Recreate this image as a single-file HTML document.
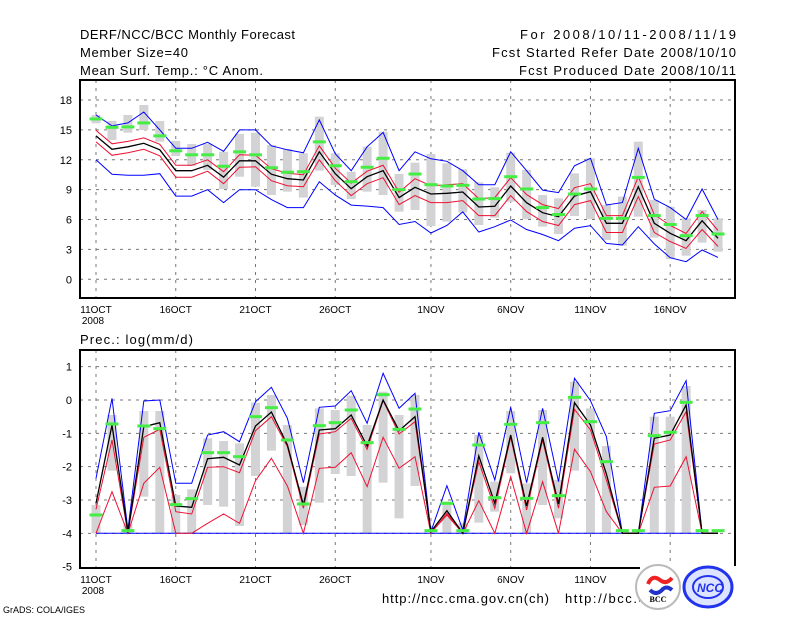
<!DOCTYPE html>
<html><head><meta charset="utf-8"><style>
html,body{margin:0;padding:0;background:#fff;}
svg{display:block;font-family:"Liberation Sans",sans-serif;}
</style></head><body>
<svg id="chart" width="800" height="618" viewBox="0 0 800 618" xmlns="http://www.w3.org/2000/svg">
<rect width="800" height="618" fill="#fff"/>
<g font-size="13" fill="#000">
<text x="80" y="39" textLength="215" lengthAdjust="spacing">DERF/NCC/BCC Monthly Forecast</text>
<text x="80" y="57" textLength="108" lengthAdjust="spacing">Member Size=40</text>
<text x="80" y="75" textLength="183" lengthAdjust="spacing">Mean Surf. Temp.: °C Anom.</text>
<text x="520" y="39" textLength="216" lengthAdjust="spacing">For 2008/10/11-2008/11/19</text>
<text x="492" y="57" textLength="244" lengthAdjust="spacing">Fcst Started Refer Date 2008/10/10</text>
<text x="519" y="75" textLength="217" lengthAdjust="spacing">Fcst Produced Date 2008/10/11</text>
<text x="80" y="344" textLength="113" lengthAdjust="spacing">Prec.: log(mm/d)</text>
<text x="382" y="603" textLength="167" lengthAdjust="spacing">http://ncc.cma.gov.cn(ch)</text>
<text x="565" y="603" textLength="80" lengthAdjust="spacing">http://bcc.c</text>
</g>
<text x="3" y="613" font-size="9">GrADS: COLA/IGES</text>
<g id="top"></g>
<g id="bot"></g>
<g>
<rect x="640" y="566" width="98" height="46" fill="#fff"/>
<circle cx="658" cy="587" r="22" fill="#fff" stroke="#bbb" stroke-width="2"/>
<path d="M648 584 q4 -10 12 -4 q6 5 12 -2" stroke="#e22" stroke-width="4" fill="none"/>
<path d="M650 590 q6 6 12 0 q4 -5 10 0" stroke="#23c" stroke-width="4" fill="none"/>
<text x="658" y="602" font-size="8" font-weight="bold" text-anchor="middle" font-family="Liberation Serif,serif">BCC</text>
</g>
<g>
<ellipse cx="708" cy="587" rx="24" ry="20" fill="#dde4ff" stroke="#23e" stroke-width="3"/>
<ellipse cx="708" cy="587" rx="15" ry="11" fill="none" stroke="#23e" stroke-width="2"/>
<text x="710" y="592" font-size="12" font-weight="bold" font-style="italic" fill="#23e" text-anchor="middle">NCC</text>
</g>
</svg>
<script>
// ---- temperature panel data ----
var tickDays = [0,5,10,15,21,26,31,36];
var tickLabels = ["11OCT","16OCT","21OCT","26OCT","1NOV","6NOV","11NOV","16NOV"];
var tempTicks = [0,3,6,9,12,15,18];
var tempMean = [14.4,13.05,13.3,13.65,13.0,10.9,10.9,11.45,10.25,11.9,11.9,10.55,10.1,9.97,12.8,10.6,9.1,10.3,10.9,8.2,9.24,8.56,8.63,8.77,7.26,7.33,9.37,7.69,6.69,6.29,8.36,8.8,5.62,5.62,9.3,5.62,4.62,3.88,5.88,4.12];
var tempRedUp = [14.95,13.6,13.85,14.2,13.55,11.45,11.45,12.0,10.8,12.5,12.45,11.1,10.65,10.5,13.4,11.15,9.65,10.85,11.45,8.75,10.1,9.4,9.5,9.6,8.1,8.2,10.2,8.5,7.5,7.1,9.2,9.6,6.4,6.4,10.3,6.5,5.4,4.6,6.8,4.9];
var tempRedLo = [13.8,12.45,12.7,13.05,12.4,10.25,10.25,10.85,9.6,11.25,11.3,9.9,9.4,9.3,12.0,9.9,8.4,9.6,10.2,7.5,8.4,7.7,7.7,7.9,6.4,6.4,8.4,6.8,5.8,5.4,7.5,7.9,4.7,4.7,8.3,4.7,3.8,3.1,5.0,3.3];
var tempMax = [16.5,15.4,15.7,16.8,15.0,13.15,13.15,13.75,12.85,15.0,15.0,13.4,13.0,12.7,16.0,12.6,10.9,13.3,14.75,10.9,12.8,12.1,11.85,10.9,9.5,9.5,12.8,10.9,8.96,8.7,11.4,12.15,7.46,7.7,13.15,8.03,7.2,6.0,9.07,6.0];
var tempMin = [12.0,10.55,10.45,10.45,10.6,8.35,8.35,9.0,7.7,9.0,9.0,8.0,7.2,7.2,9.8,8.45,7.45,7.35,7.2,5.5,5.8,4.65,5.4,6.77,4.75,5.28,5.95,5.0,4.5,3.88,5.13,5.39,3.6,3.44,5.28,3.55,2.17,1.77,2.94,2.2];
var tempObs = [16.1,15.26,15.3,15.7,14.4,12.9,12.5,12.5,11.35,12.8,12.5,11.2,10.75,10.8,13.8,11.4,9.8,11.25,12.15,9.0,10.57,9.5,9.37,9.44,8.06,8.1,10.3,9.07,7.2,6.5,8.56,9.07,6.12,6.12,10.23,6.4,5.5,4.38,6.4,4.55];
var tempBoxTop = [16.5,15.9,16.5,17.5,15.9,13.89,13.58,13.58,12.8,14.6,14.72,13.48,13.08,12.65,16.33,12.65,10.8,13.32,14.82,10.58,11.71,12.58,11.65,11.04,9.74,9.24,12.71,10.98,8.46,8.13,10.64,12.15,7.46,8.3,13.82,7.96,7.29,6.12,6.96,6.12];
var tempBoxBot = [15.66,13.99,14.72,14.99,13.82,12.38,11.38,10.98,9.07,10.3,9.3,8.46,8.8,8.2,10.91,9.47,8.06,8.8,8.46,6.79,6.96,5.35,5.79,6.69,5.45,6.19,7.8,6.05,5.29,4.55,6.36,6.05,3.95,3.38,6.29,4.18,2.04,2.37,3.68,2.77];
// ---- precipitation panel data ----
var precTicks = [-5,-4,-3,-2,-1,0,1];
var precMean = [-3.1,-0.75,-3.98,-0.8,-0.68,-3.18,-3.22,-1.76,-1.72,-1.95,-0.78,-0.36,-1.35,-3.15,-0.9,-0.86,-0.45,-1.38,0.0,-0.92,-0.5,-3.95,-3.32,-4,-1.68,-3.1,-1.05,-3.18,-1.12,-3.12,-0.08,-0.75,-2.22,-4,-4,-1.15,-1.05,-0.15,-4,-4];
var precMax = [-2.35,0.05,-3.9,-0.03,0.0,-2.5,-2.5,-1.05,-0.95,-1.25,-0.05,0.38,-0.55,-2.48,-0.22,-0.18,0.28,-0.7,0.8,-0.25,0.2,-3.95,-2.57,-3.9,-0.97,-2.4,-0.22,-2.48,-0.25,-2.45,0.65,-0.02,-1.1,-4,-4,-0.4,-0.32,0.58,-4,-4];
var precRedUp = [-3.28,-1.2,-4,-1.12,-0.88,-3.35,-3.42,-2.02,-2.0,-2.18,-0.92,-0.5,-1.4,-3.25,-1.02,-0.95,-0.55,-1.48,-0.02,-1.02,-0.65,-3.98,-3.45,-4,-1.85,-3.25,-1.12,-3.3,-1.2,-3.25,-0.28,-0.9,-2.4,-4,-4,-1.32,-1.2,-0.35,-4,-4];
var precRedLo = [-4,-2.75,-4,-2.5,-2.02,-4,-4,-3.7,-3.42,-3.7,-2.42,-1.75,-2.58,-4,-2.05,-2.02,-1.58,-2.6,-1.12,-2.05,-1.7,-4,-3.4,-4,-3.02,-4,-2.3,-4,-2.45,-4,-1.48,-2.15,-3.35,-4,-4,-2.62,-2.58,-1.7,-4,-4];
var precObs = [-3.45,-0.72,-3.92,-0.78,-0.86,-3.14,-2.96,-1.58,-1.58,-1.7,-0.5,-0.23,-1.2,-3.12,-0.77,-0.68,-0.3,-1.28,0.16,-0.88,-0.27,-3.92,-3.1,-3.92,-1.35,-2.93,-0.73,-2.95,-0.68,-2.87,0.08,-0.65,-1.85,-3.92,-3.92,-1.07,-0.97,-0.07,-3.92,-3.92];
var precBoxTop = [-3.15,-0.45,-3.7,-0.33,-0.33,-2.85,-2.68,-1.15,-1.23,-1.3,-0.08,0.15,-0.75,-2.6,-0.25,-0.3,0.13,-0.75,0.25,-0.45,0.15,-4,-3.05,-3.7,-1.05,-2.45,-0.33,-2.5,-0.3,-2.4,0.55,-0.25,-1.38,-4,-4,-0.5,-0.5,0.42,-4,-4];
var precBoxBot = [-4,-2.12,-4,-2.9,-4,-4,-4,-3.15,-3.2,-3.78,-2.28,-1.52,-4,-3.75,-3.08,-2.22,-2.28,-4,-2.48,-3.55,-2.58,-4,-4,-4,-3.68,-3.35,-2.2,-4,-3.15,-3.55,-2.12,-4,-4,-4,-4,-4,-4,-4,-4,-4];
var precMin = [-4,-4,-4,-4,-4,-4,-4,-4,-4,-4,-4,-4,-4,-4,-4,-4,-4,-4,-4,-4,-4,-4,-4,-4,-4,-4,-4,-4,-4,-4,-4,-4,-4,-4,-4,-4,-4,-4,-4,-4];

var NS="http://www.w3.org/2000/svg";
function xs(i){return 96+i*15.95;}
function ytT(v){return 279.3-v*9.96;}
function ytB(v){return 400-v*33.33;}
function mk(parent,tag,attrs){var e=document.createElementNS(NS,tag);for(var k in attrs)e.setAttribute(k,attrs[k]);parent.appendChild(e);return e;}

function panel(g,top,bottom,ys,ticks,boxT,boxB,obs,maxA,minA,ruA,rlA,mean,prefix){
  var L=80,R=735;
  for(var t=0;t<ticks.length;t++){
    var yy=ys(ticks[t]);
    if(yy>top+2&&yy<bottom-2){
      var gl=mk(g,'line',{x1:L,x2:R,y1:yy,y2:yy,stroke:'#777','stroke-dasharray':'3,5','stroke-width':1});
      
      
    }
    var tl=mk(g,'text',{x:72,y:yy+4,'text-anchor':'end','font-size':11});
    tl.textContent=String(ticks[t]);
    
    
  }
  for(var d=0;d<tickDays.length;d++){
    var xx=xs(tickDays[d]);
    var vl=mk(g,'line',{x1:xx,x2:xx,y1:top,y2:bottom+4,stroke:'#777','stroke-dasharray':'3,5','stroke-width':1});
    
    
    var xl=mk(g,'text',{x:xx,y:bottom+15,'text-anchor':'middle','font-size':10});
    xl.textContent=tickLabels[d];
    
    
  }
  var yl=mk(g,'text',{x:93,y:bottom+26,'text-anchor':'middle','font-size':10});
  yl.textContent='2008';
  
  
  for(var i=0;i<mean.length;i++){
    var a=ys(boxT[i]),b=ys(boxB[i]);
    if(b-a>0.5){
      var r=mk(g,'rect',{x:xs(i)-4.5,y:a,width:9,height:b-a,fill:'#d3d3d6'});
      
      
    }
  }
  function line(arr,color,w,name){
    var p='';for(var i=0;i<arr.length;i++)p+=(i?'L':'M')+xs(i).toFixed(1)+' '+ys(arr[i]).toFixed(1);
    var e=mk(g,'path',{d:p,stroke:color,'stroke-width':w,fill:'none'});
    
    
  }
  line(maxA,'#0000ff',1,prefix+'-max-line');
  line(minA,'#0000ff',1,prefix+'-min-line');
  line(ruA,'#ee1133',1,prefix+'-upper-red-line');
  line(rlA,'#ee1133',1,prefix+'-lower-red-line');
  line(mean,'#000',1.3,prefix+'-mean-line');
  for(var i=0;i<obs.length;i++){
    var o=mk(g,'rect',{x:xs(i)-6.5,y:ys(obs[i])-1.5,width:13,height:3,fill:'#44ee44'});
    
    
  }
  var fr=mk(g,'rect',{x:L,y:top,width:R-L,height:bottom-top,fill:'none',stroke:'#000','stroke-width':2});
  
  
}
panel(document.getElementById('top'),80,298,ytT,tempTicks,tempBoxTop,tempBoxBot,tempObs,tempMax,tempMin,tempRedUp,tempRedLo,tempMean,'temp');
panel(document.getElementById('bot'),350,568,ytB,precTicks,precBoxTop,precBoxBot,precObs,precMax,precMin,precRedUp,precRedLo,precMean,'prec');
</script>
</body></html>
